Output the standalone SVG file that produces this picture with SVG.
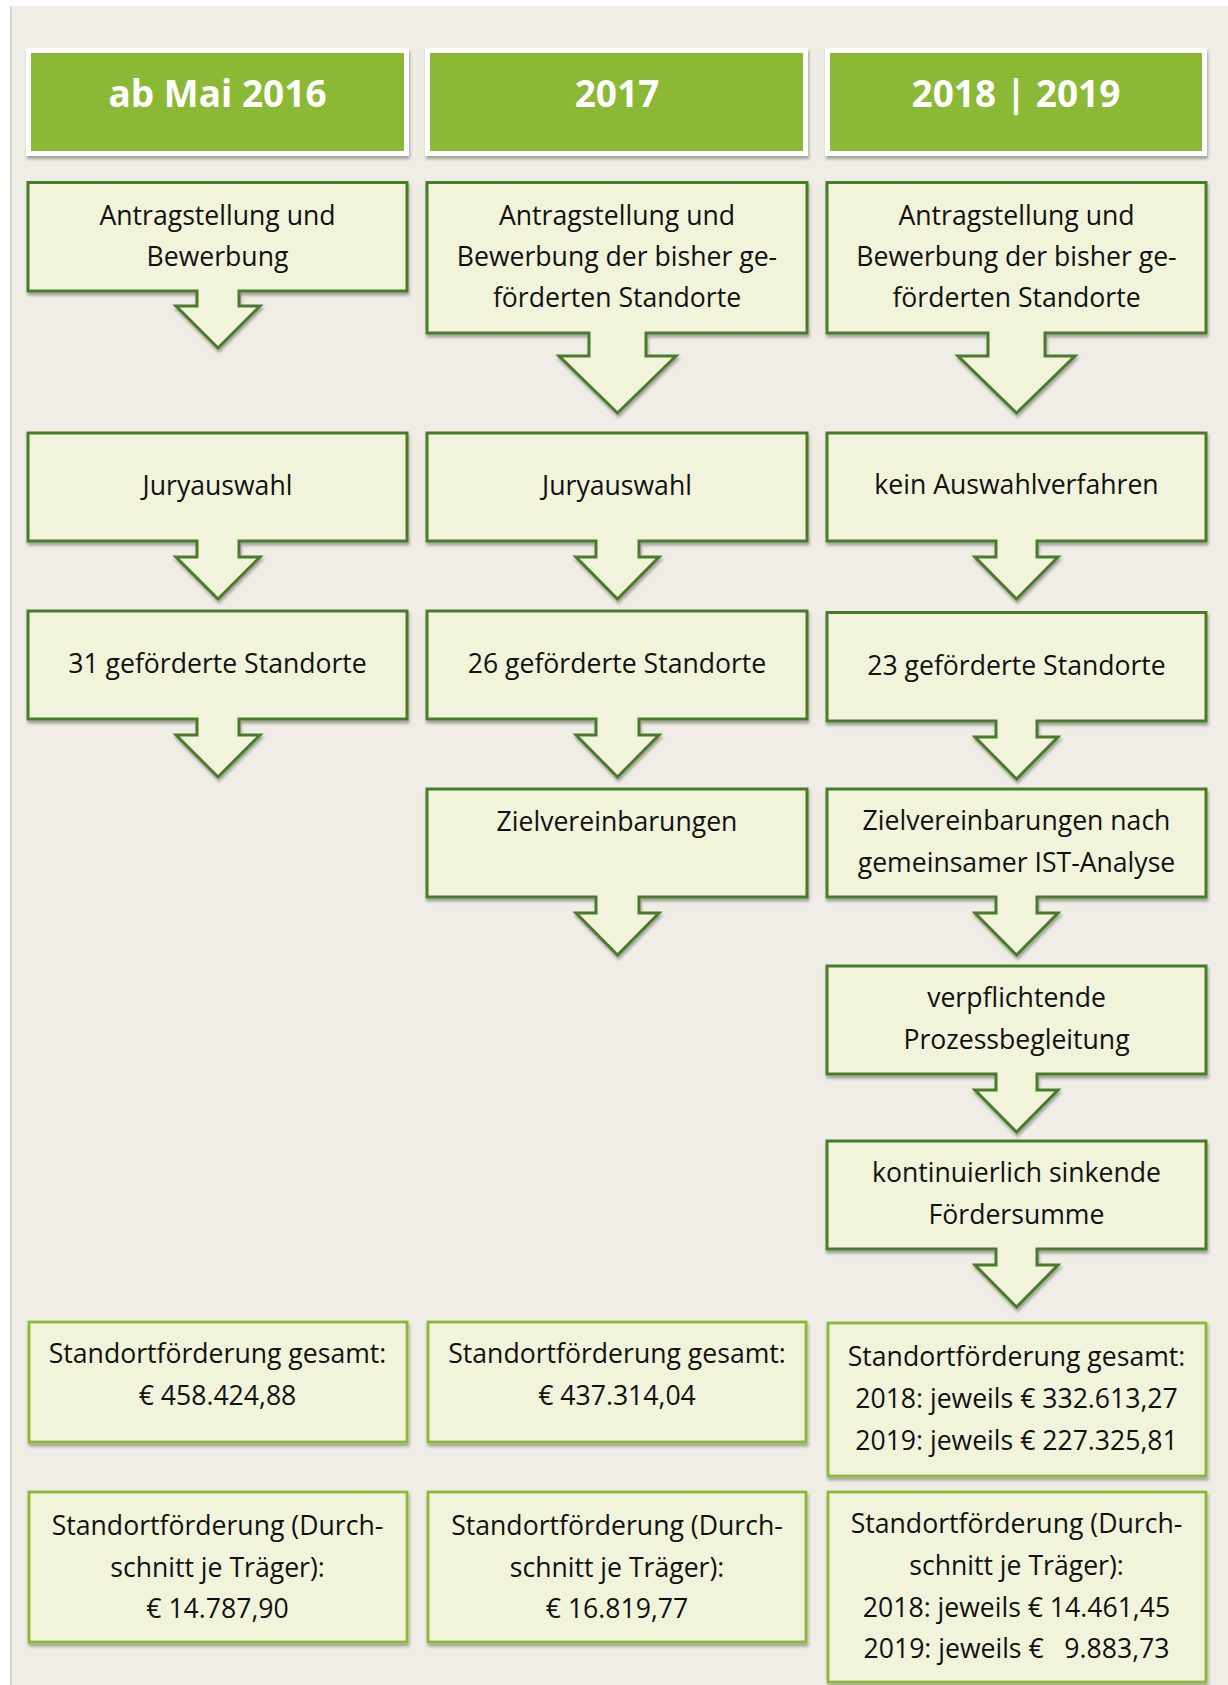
<svg xmlns="http://www.w3.org/2000/svg" width="1228" height="1685" viewBox="0 0 1228 1685">
<defs>
<filter id="sh" x="-5%" y="-5%" width="112%" height="120%">
<feDropShadow dx="1" dy="3" stdDeviation="1.6" flood-color="#000" flood-opacity="0.32"/>
</filter>
<style>
.hdr{fill:#8BB836;stroke:#fff;stroke-width:5;filter:url(#sh)}
.ht{font-family:"Open Sans","Noto Sans",sans-serif;font-weight:bold;font-size:37px;fill:#fff;text-anchor:middle}
.box{fill:#F1F3DA;stroke:#4A7C2C;stroke-width:3;stroke-linejoin:miter;filter:url(#sh)}
.sum{fill:#F1F3DA;stroke:#8BB836;stroke-width:2.8;filter:url(#sh)}
.t{font-family:"Open Sans","Noto Sans",sans-serif;font-size:26.6px;fill:#111;text-anchor:middle;white-space:pre}
</style>
</defs>
<rect x="0" y="0" width="1228" height="1685" fill="#fff"/>
<rect x="10" y="6" width="1218" height="1679" fill="#F0EDE6"/>
<rect x="10" y="6" width="2" height="1679" fill="#D8D6D2"/>

<g id="header-2016">
<rect class="hdr" x="28.5" y="50.5" width="378" height="103"/>
<text class="ht" x="217.5" y="107">ab Mai 2016</text>
</g>
<g id="header-2017">
<rect class="hdr" x="427.5" y="50.5" width="378" height="103"/>
<text class="ht" x="617" y="107">2017</text>
</g>
<g id="header-2018-2019">
<rect class="hdr" x="827.5" y="50.5" width="377" height="103"/>
<text class="ht" x="1016" y="107">2018 | 2019</text>
</g>

<!-- Column 1 -->
<g id="c1-antrag">
<path class="box" d="M28,182.5 H407 V291 H239 V306 H260 L218,348 L176,306 H197 V291 H28 Z"/>
<text class="t" x="217.5" y="225">Antragstellung und</text>
<text class="t" x="217.5" y="266">Bewerbung</text>
</g>
<g id="c1-jury">
<path class="box" d="M28,433 H407 V541 H239 V557 H260 L218,599 L176,557 H197 V541 H28 Z"/>
<text class="t" x="217.5" y="495">Juryauswahl</text>
</g>
<g id="c1-standorte">
<path class="box" d="M28,611 H407 V719 H239 V735 H260 L218,777 L176,735 H197 V719 H28 Z"/>
<text class="t" x="217.5" y="673">31 geförderte Standorte</text>
</g>
<g id="c1-gesamt">
<rect class="sum" x="29" y="1322" width="378" height="120"/>
<text class="t" x="217.5" y="1363">Standortförderung gesamt:</text>
<text class="t" x="217.5" y="1405">€ 458.424,88</text>
</g>
<g id="c1-schnitt">
<rect class="sum" x="29" y="1492" width="378" height="150"/>
<text class="t" x="217.5" y="1535">Standortförderung (Durch-</text>
<text class="t" x="217.5" y="1577">schnitt je Träger):</text>
<text class="t" x="217.5" y="1618">€ 14.787,90</text>
</g>

<!-- Column 2 -->
<g id="c2-antrag">
<path class="box" d="M427,182.5 H807 V333 H646 V356 H676 L617.5,413 L559,356 H589 V333 H427 Z"/>
<text class="t" x="617" y="225">Antragstellung und</text>
<text class="t" x="617" y="266">Bewerbung der bisher ge-</text>
<text class="t" x="617" y="307">förderten Standorte</text>
</g>
<g id="c2-jury">
<path class="box" d="M427,433 H807 V541 H639 V557 H659 L617.5,599 L576,557 H596 V541 H427 Z"/>
<text class="t" x="617" y="495">Juryauswahl</text>
</g>
<g id="c2-standorte">
<path class="box" d="M427,611 H807 V719 H639 V735 H659 L617.5,777 L576,735 H596 V719 H427 Z"/>
<text class="t" x="617" y="673">26 geförderte Standorte</text>
</g>
<g id="c2-ziel">
<path class="box" d="M427,789 H807 V897 H639 V913 H659 L617.5,955 L576,913 H596 V897 H427 Z"/>
<text class="t" x="617" y="831">Zielvereinbarungen</text>
</g>
<g id="c2-gesamt">
<rect class="sum" x="428" y="1322" width="378" height="120"/>
<text class="t" x="617" y="1363">Standortförderung gesamt:</text>
<text class="t" x="617" y="1405">€ 437.314,04</text>
</g>
<g id="c2-schnitt">
<rect class="sum" x="428" y="1492" width="378" height="150"/>
<text class="t" x="617" y="1535">Standortförderung (Durch-</text>
<text class="t" x="617" y="1577">schnitt je Träger):</text>
<text class="t" x="617" y="1618">€ 16.819,77</text>
</g>

<!-- Column 3 -->
<g id="c3-antrag">
<path class="box" d="M827,182.5 H1206 V333 H1045 V356 H1075 L1016.5,413 L958,356 H988 V333 H827 Z"/>
<text class="t" x="1016.5" y="225">Antragstellung und</text>
<text class="t" x="1016.5" y="266">Bewerbung der bisher ge-</text>
<text class="t" x="1016.5" y="307">förderten Standorte</text>
</g>
<g id="c3-auswahl">
<path class="box" d="M827,433 H1206 V541 H1037 V557 H1058 L1016.5,599 L975,557 H996 V541 H827 Z"/>
<text class="t" x="1016.5" y="494">kein Auswahlverfahren</text>
</g>
<g id="c3-standorte">
<path class="box" d="M827,612.5 H1206 V721 H1037 V737 H1058 L1016.5,779 L975,737 H996 V721 H827 Z"/>
<text class="t" x="1016.5" y="675">23 geförderte Standorte</text>
</g>
<g id="c3-ziel">
<path class="box" d="M827,789 H1206 V897 H1037 V913 H1058 L1016.5,955 L975,913 H996 V897 H827 Z"/>
<text class="t" x="1016.5" y="830">Zielvereinbarungen nach</text>
<text class="t" x="1016.5" y="872">gemeinsamer IST-Analyse</text>
</g>
<g id="c3-prozess">
<path class="box" d="M827,966 H1206 V1074 H1037 V1090 H1058 L1016.5,1132 L975,1090 H996 V1074 H827 Z"/>
<text class="t" x="1016.5" y="1007">verpflichtende</text>
<text class="t" x="1016.5" y="1049">Prozessbegleitung</text>
</g>
<g id="c3-foerdersumme">
<path class="box" d="M827,1141 H1206 V1249 H1037 V1265 H1058 L1016.5,1307 L975,1265 H996 V1249 H827 Z"/>
<text class="t" x="1016.5" y="1182">kontinuierlich sinkende</text>
<text class="t" x="1016.5" y="1224">Fördersumme</text>
</g>
<g id="c3-gesamt">
<rect class="sum" x="828" y="1323" width="378" height="153"/>
<text class="t" x="1016.5" y="1366">Standortförderung gesamt:</text>
<text class="t" x="1016.5" y="1408">2018: jeweils € 332.613,27</text>
<text class="t" x="1016.5" y="1450">2019: jeweils € 227.325,81</text>
</g>
<g id="c3-schnitt">
<rect class="sum" x="828" y="1492" width="378" height="190"/>
<text class="t" x="1016.5" y="1533">Standortförderung (Durch-</text>
<text class="t" x="1016.5" y="1575">schnitt je Träger):</text>
<text class="t" x="1016.5" y="1617">2018: jeweils € 14.461,45</text>
<text class="t" x="1016.5" y="1658">2019: jeweils €   9.883,73</text>
</g>

<g id="connectors"><!-- arrows are part of the callout node shapes --></g>
</svg>
